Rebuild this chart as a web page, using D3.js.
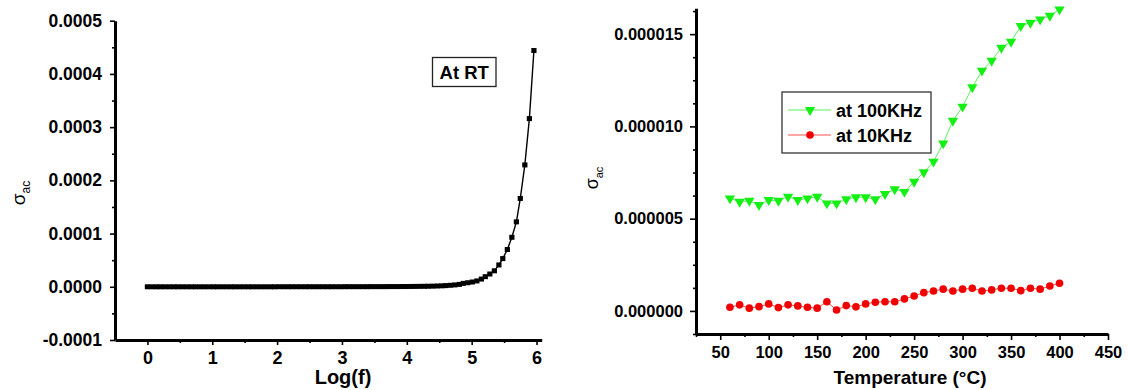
<!DOCTYPE html>
<html>
<head>
<meta charset="utf-8">
<script src="https://cdn.jsdelivr.net/npm/d3@7"></script>
<style>
  html, body { margin: 0; padding: 0; background: #fff; }
  svg { display: block; }
  text { font-family: Arial, "Liberation Sans", sans-serif; fill: #000; }
</style>
</head>
<body>
<svg id="chart" width="1130" height="390"></svg>
<script>
// ---- Left panel: conductivity vs log frequency at room temperature ----
const logF = [0.00,0.07,0.14,0.20,0.27,0.34,0.41,0.47,0.54,0.61,0.68,0.74,0.81,0.88,0.95,1.02,
  1.08,1.15,1.22,1.29,1.35,1.42,1.49,1.56,1.62,1.69,1.76,1.83,1.90,1.96,2.03,2.10,2.17,2.23,
  2.30,2.37,2.44,2.50,2.57,2.64,2.71,2.78,2.84,2.91,2.98,3.05,3.11,3.18,3.25,3.32,3.39,3.45,
  3.52,3.59,3.66,3.72,3.79,3.86,3.93,3.99,4.06,4.13,4.20,4.27,4.33,4.40,4.47,4.54,4.60,4.67,
  4.74,4.81,4.87,4.94,5.01,5.08,5.15,5.21,5.28,5.35,5.42,5.48,5.55,5.62,5.69,5.75,5.82,5.89,5.96];
const sigmaRT = [0,0,0,0,0,0,0,0,0,0,0,0,0,0,0,0,
  0,0,0,0,0,0,0,0,0,0,0,0,0,0,1e-7,1e-7,1e-7,1e-7,
  1e-7,1e-7,1e-7,1e-7,1e-7,1e-7,1e-7,1e-7,1e-7,1e-7,1e-7,2e-7,2e-7,2e-7,2e-7,2e-7,2e-7,3e-7,
  3e-7,3e-7,3e-7,4e-7,4e-7,4e-7,5e-7,5e-7,6e-7,7e-7,8e-7,9e-7,1.0e-6,1.2e-6,1.5e-6,1.8e-6,2.2e-6,2.8e-6,
  3.5e-6,4.5e-6,6.4e-6,7.6e-6,9.0e-6,1.1e-5,1.45e-5,1.9e-5,2.4e-5,3.0e-5,4.1e-5,5.3e-5,7.0e-5,9.3e-5,1.22e-4,1.66e-4,2.29e-4,3.16e-4,4.44e-4];
const leftXTicks = [0, 1, 2, 3, 4, 5, 6];
const leftXMinor = [0.5, 1.5, 2.5, 3.5, 4.5, 5.5];
const leftYTicks = [-0.0001, 0, 0.0001, 0.0002, 0.0003, 0.0004, 0.0005];
const leftYMinor = [-0.00005, 0.00005, 0.00015, 0.00025, 0.00035, 0.00045];

// ---- Right panel: conductivity vs temperature ----
const temps = [60,70,80,90,100,110,120,130,140,150,160,170,180,190,200,210,220,230,240,250,
  260,270,280,290,300,310,320,330,340,350,360,370,380,390,400];
const sigma100k = [6.10,5.92,5.97,5.74,6.01,5.97,6.19,6.01,6.10,6.19,5.83,5.83,6.05,6.16,6.16,6.05,
  6.34,6.59,6.45,7.00,7.51,8.09,9.08,10.31,11.07,12.12,13.02,13.56,14.26,14.59,15.44,15.62,15.80,16.00,16.34]
  .map(v => v * 1e-6);
const sigma10k = [0.20,0.33,0.15,0.23,0.38,0.18,0.33,0.27,0.20,0.15,0.50,0.05,0.29,0.22,0.38,0.47,
  0.50,0.50,0.65,0.81,0.99,1.08,1.18,1.08,1.18,1.23,1.08,1.14,1.23,1.23,1.10,1.23,1.18,1.35,1.50]
  .map(v => v * 1e-6);
const rightXTicks = [50, 100, 150, 200, 250, 300, 350, 400, 450];
const rightXMinor = [25, 75, 125, 175, 225, 275, 325, 375, 425];
const rightYTicks = [0, 5e-6, 10e-6, 15e-6];
const rightYMinor = [-1.25e-6, 1.25e-6, 2.5e-6, 3.75e-6, 6.25e-6, 7.5e-6, 8.75e-6,
  11.25e-6, 12.5e-6, 13.75e-6, 16.25e-6];
const seriesNames = ["at 100KHz", "at 10KHz"];
const seriesColors = ["#14f014", "#f00000"];
const lineColors = ["#5cf05c", "#ff5050"];

const svg = d3.select("#chart");

// plain hyphen for negative numbers
const fmt4 = v => d3.format(".4f")(v).replace("\u2212", "-");

function styleAxis(g, width) {
  g.select(".domain").attr("stroke", "#000").attr("stroke-width", width);
  g.selectAll(".tick line").attr("stroke", "#000").attr("stroke-width", 1.6);
  g.selectAll(".tick text").attr("font-weight", "bold").attr("fill", "#000");
}
function minorAxis(g) {
  g.select(".domain").remove();
  g.selectAll(".tick line").attr("stroke", "#000").attr("stroke-width", 1.6);
}

// ---------- Left panel ----------
const xL = d3.scaleLinear().domain([-0.5, 6.08]).range([115, 541.7]);
const yL = d3.scaleLinear().domain([-0.0001, 0.0005]).range([340, 20.7]);

const gL = svg.append("g");
gL.append("g").attr("transform", "translate(0,340)")
  .call(d3.axisBottom(xL).tickValues(leftXMinor).tickFormat("").tickSize(3).tickSizeOuter(0))
  .call(minorAxis);
gL.append("g").attr("transform", "translate(115,0)")
  .call(d3.axisLeft(yL).tickValues(leftYMinor).tickFormat("").tickSize(3).tickSizeOuter(0))
  .call(minorAxis);
gL.append("g").attr("transform", "translate(0,340)")
  .call(d3.axisBottom(xL).tickValues(leftXTicks).tickFormat(d3.format("d")).tickSize(5).tickPadding(6).tickSizeOuter(0))
  .call(g => { styleAxis(g, 3); g.selectAll(".tick text").attr("font-size", 18); });
gL.append("g").attr("transform", "translate(115,0)")
  .call(d3.axisLeft(yL).tickValues(leftYTicks).tickFormat(fmt4).tickSize(5).tickPadding(8).tickSizeOuter(0))
  .call(g => { styleAxis(g, 3); g.selectAll(".tick text").attr("font-size", 17.5); });

const rtData = logF.map((x, i) => ({ x, y: sigmaRT[i] }));
gL.append("path").datum(rtData)
  .attr("fill", "none").attr("stroke", "#000").attr("stroke-width", 1.4)
  .attr("d", d3.line().x(d => xL(d.x)).y(d => yL(d.y)));
gL.selectAll("rect.pt").data(rtData).join("rect").attr("class", "pt")
  .attr("x", d => xL(d.x) - 2.6).attr("y", d => yL(d.y) - 2.5)
  .attr("width", 5.2).attr("height", 5).attr("fill", "#000");

// "At RT" annotation box
gL.append("rect").attr("x", 432.5).attr("y", 57.5).attr("width", 63.5).attr("height", 29)
  .attr("fill", "#fff").attr("stroke", "#222").attr("stroke-width", 1.3);
gL.append("text").attr("x", 464.2).attr("y", 79).attr("text-anchor", "middle")
  .attr("font-size", 18.5).attr("font-weight", "bold").text("At RT");

// axis titles
gL.append("text").attr("x", 343).attr("y", 384).attr("text-anchor", "middle")
  .attr("font-size", 20).attr("font-weight", "bold").text("Log(f)");
const yTitleL = gL.append("text").attr("transform", "translate(25,193) rotate(-90)")
  .attr("text-anchor", "middle").attr("font-size", 19);
yTitleL.append("tspan").text("σ");
yTitleL.append("tspan").attr("dy", 5).attr("font-size", 12).text("ac");

// ---------- Right panel ----------
const xR = d3.scaleLinear().domain([25, 450]).range([696, 1108]);
const yR = d3.scaleLinear().domain([-1.25e-6, 16.4e-6]).range([334, 8.3]);

const gR = svg.append("g");
gR.append("g").attr("transform", "translate(0,334)")
  .call(d3.axisBottom(xR).tickValues(rightXMinor).tickFormat("").tickSize(3).tickSizeOuter(0))
  .call(minorAxis);
gR.append("g").attr("transform", "translate(696,0)")
  .call(d3.axisLeft(yR).tickValues(rightYMinor).tickFormat("").tickSize(3).tickSizeOuter(0))
  .call(minorAxis);
gR.append("g").attr("transform", "translate(0,334)")
  .call(d3.axisBottom(xR).tickValues(rightXTicks).tickFormat(d3.format("d")).tickSize(6).tickPadding(6).tickSizeOuter(0))
  .call(g => { styleAxis(g, 3); g.selectAll(".tick text").attr("font-size", 16.5); });
gR.append("g").attr("transform", "translate(696,0)")
  .call(d3.axisLeft(yR).tickValues(rightYTicks).tickFormat(d3.format(".6f")).tickSize(6).tickPadding(7).tickSizeOuter(0))
  .call(g => { styleAxis(g, 3); g.selectAll(".tick text").attr("font-size", 16.5); });

const seriesVals = [sigma100k, sigma10k];
const symbols = [d3.symbol().type(d3.symbolTriangle).size(46), d3.symbol().type(d3.symbolCircle).size(46)];
const rotations = [180, 0];

// draw 10 kHz first so 100 kHz sits on top
[1, 0].forEach(s => {
  const data = temps.map((t, i) => ({ x: t, y: seriesVals[s][i] }));
  gR.append("path").datum(data)
    .attr("fill", "none").attr("stroke", lineColors[s]).attr("stroke-width", 1)
    .attr("d", d3.line().x(d => xR(d.x)).y(d => yR(d.y)));
  gR.selectAll("path.m" + s).data(data).join("path").attr("class", "m" + s)
    .attr("d", symbols[s])
    .attr("transform", d => `translate(${xR(d.x)},${yR(d.y)}) rotate(${rotations[s]})`)
    .attr("fill", seriesColors[s]);
});

// legend
const leg = gR.append("g");
leg.append("rect").attr("x", 782).attr("y", 92).attr("width", 149).attr("height", 61)
  .attr("fill", "#fff").attr("stroke", "#333").attr("stroke-width", 1.3);
seriesNames.forEach((name, s) => {
  const ly = 110 + s * 25;
  leg.append("line").attr("x1", 788).attr("x2", 831).attr("y1", ly).attr("y2", ly)
    .attr("stroke", lineColors[s]).attr("stroke-width", 1.2);
  leg.append("path").attr("d", symbols[s])
    .attr("transform", `translate(810,${ly}) rotate(${rotations[s]})`)
    .attr("fill", seriesColors[s]);
  leg.append("text").attr("x", 836).attr("y", ly + 6.5)
    .attr("font-size", 18).attr("font-weight", "bold").text(name);
});

// axis titles
gR.append("text").attr("x", 910).attr("y", 384).attr("text-anchor", "middle")
  .attr("font-size", 19).attr("font-weight", "bold").text("Temperature (°C)");
const yTitleR = gR.append("text").attr("transform", "translate(598,178) rotate(-90)")
  .attr("text-anchor", "middle").attr("font-size", 18);
yTitleR.append("tspan").text("σ");
yTitleR.append("tspan").attr("dy", 5).attr("font-size", 11).text("ac");
</script>
</body>
</html>
